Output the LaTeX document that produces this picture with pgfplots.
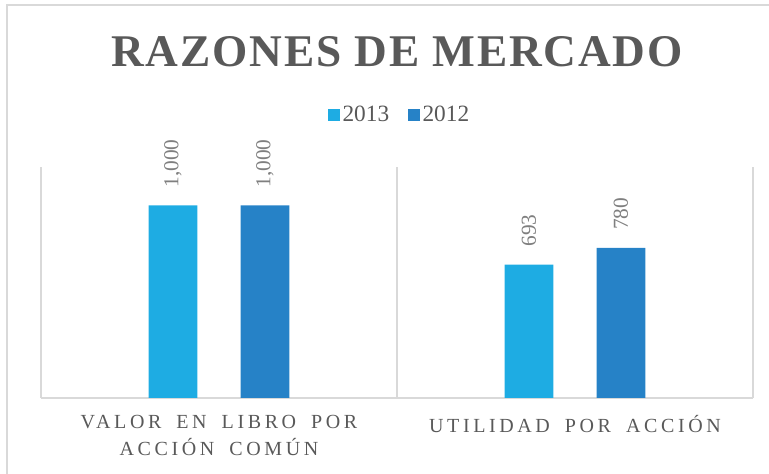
\documentclass[border=0pt]{standalone}
\usepackage{fontspec}
\setmainfont{Liberation Serif}
\newfontfamily\titlefont[LetterSpace=4]{Liberation Serif}
\newfontfamily\spacedfont[LetterSpace=18,WordSpace=1.75]{Liberation Serif}
\usepackage{pgfplots}
\pgfplotsset{compat=1.18}
\definecolor{cLight}{HTML}{1EACE3}
\definecolor{cDark}{HTML}{2682C7}
\definecolor{txtgray}{HTML}{595959}
\definecolor{lblgray}{HTML}{7F7F7F}
\definecolor{linegray}{HTML}{D9D9D9}
\begin{document}
\begin{tikzpicture}
\path[use as bounding box] (0,0) rectangle (576.75pt,355.5pt);
\draw[linegray, line width=1.2pt] (5.25pt,0) -- (5.25pt,351.75pt) -- (576.75pt,351.75pt);
\node[anchor=base, text=txtgray, font=\titlefont\bfseries\fontsize{34}{40}\selectfont] at (297.75pt,305.25pt) {RAZONES DE MERCADO};
\begin{axis}[
  at={(30.75pt,57pt)}, anchor=south west,
  scale only axis, width=534pt, height=173.25pt,
  xmin=-0.5, xmax=1.5, ymin=0, ymax=1200,
  axis y line=none,
  axis x line*=bottom,
  x axis line style={draw=linegray, line width=1.2pt},
  xtick={0,1}, xtick style={draw=none},
  xticklabels={{VALOR EN LIBRO POR\\ACCIÓN COMÚN},{UTILIDAD POR ACCIÓN}},
  xticklabel style={align=center, text=txtgray, font=\spacedfont\fontsize{15}{20}\selectfont, yshift=-5.5pt},
  extra x ticks={-0.5,0.5,1.5}, extra x tick labels={},
  extra x tick style={grid=major, major grid style={draw=linegray, line width=1.2pt}, major tick length=0pt},
  ybar, bar width=36.4pt,
  nodes near coords,
  every node near coord/.append style={rotate=90, anchor=west, text=lblgray, font=\fontsize{16}{18}\selectfont, xshift=10pt},
  /pgf/number format/assume math mode=true,
  /pgf/number format/1000 sep={,},
  legend columns=2,
  legend style={at={(0.504,1.225)}, anchor=center, draw=none, fill=none, text=txtgray, font=\fontsize{17.5}{20}\selectfont, /tikz/every even column/.append style={column sep=12pt}, inner sep=0pt},
  legend image code/.code={\fill[#1] (0pt,-4.5pt) rectangle (9pt,4.5pt);},
]
\addplot[fill=cLight, draw=none, bar shift=-34.5pt] coordinates {(0,1000) (1,693)};
\addplot[fill=cDark, draw=none, bar shift=34.5pt] coordinates {(0,1000) (1,780)};
\legend{2013,2012}
\end{axis}
\end{tikzpicture}
\end{document}
